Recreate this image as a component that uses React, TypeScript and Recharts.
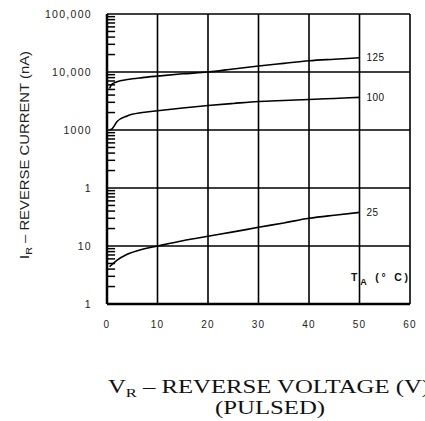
import { LineChart, Line, XAxis, YAxis, CartesianGrid, ReferenceLine, ReferenceDot } from 'recharts';

// reverse voltage (V)
const voltage = [0.5, 1, 2, 4, 7, 10, 15, 20, 25, 30, 35, 40, 45, 50];
// reverse current (nA) per ambient temperature
const temp125 = [5200, 6200, 6800, 7400, 8000, 8500, 9300, 10000, 11300, 12700, 14100, 15600, 16600, 17600];
const temp100 = [1000, 1050, 1400, 1750, 2000, 2150, 2400, 2640, 2870, 3100, 3230, 3350, 3500, 3650];
const temp25 = [4.4, 4.8, 5.7, 7.2, 8.8, 10, 12.3, 14.7, 17.5, 21, 25, 30, 34, 38];

const xTicks = [0, 10, 20, 30, 40, 50, 60];
const yTicks = [1, 10, 100, 1000, 10000, 100000];
// labels as printed on the original sheet
const yTickLabels = ['1', '10', '1', '1000', '10,000', '100,000'];
const minorTicks = [1, 10, 100, 1000, 10000].flatMap((d) => [2, 3, 4, 5, 6, 7, 8, 9].map((m) => d * m));

const data = voltage.map((v, i) => ({ v, t125: temp125[i], t100: temp100[i], t25: temp25[i] }));

const curveLabel = (text: string) => ({
  value: text,
  position: 'right' as const,
  offset: 7,
  fontSize: 10,
  fontFamily: 'Liberation Sans, Arial, sans-serif',
  fill: '#111',
  letterSpacing: 0.5,
});

export default function App() {
  return (
    <div style={{ position: 'absolute', left: 0, top: 0, width: 425, height: 421, background: '#fff' }}>
      <LineChart width={425} height={421} data={data} margin={{ top: 14, right: 15, bottom: 97, left: 0 }}>
        <CartesianGrid stroke="#000" strokeWidth={1.6} />
        <XAxis
          dataKey="v"
          type="number"
          domain={[0, 60]}
          ticks={xTicks}
          height={20}
          tickLine={false}
          tickMargin={11}
          axisLine={{ stroke: '#000', strokeWidth: 2.5 }}
          tick={{ fontSize: 10, fill: '#222', fontFamily: 'Liberation Sans, Arial, sans-serif', letterSpacing: 1.2 }}
        />
        <YAxis
          scale="log"
          domain={[1, 100000]}
          allowDataOverflow
          ticks={yTicks}
          width={107}
          tickLine={false}
          tickMargin={9}
          axisLine={{ stroke: '#000', strokeWidth: 2.5 }}
          tickFormatter={(v: number) => yTickLabels[yTicks.indexOf(v)] ?? ''}
          tick={{ fontSize: 10.5, fill: '#222', fontFamily: 'Liberation Sans, Arial, sans-serif', letterSpacing: 1.3 }}
        />
        {minorTicks.map((m) => (
          <ReferenceLine key={m} segment={[{ x: 0, y: m }, { x: 1.6, y: m }]} stroke="#000" strokeWidth={1.5} />
        ))}
        <Line type="monotone" dataKey="t125" stroke="#000" strokeWidth={1.6} dot={false} isAnimationActive={false} />
        <Line type="monotone" dataKey="t100" stroke="#000" strokeWidth={1.6} dot={false} isAnimationActive={false} />
        <Line type="monotone" dataKey="t25" stroke="#000" strokeWidth={1.6} dot={false} isAnimationActive={false} />
        <ReferenceDot x={50} y={temp125[temp125.length - 1]} r={0} label={curveLabel('125')} />
        <ReferenceDot x={50} y={temp100[temp100.length - 1]} r={0} label={curveLabel('100')} />
        <ReferenceDot x={50} y={temp25[temp25.length - 1]} r={0} label={curveLabel('25')} />
      </LineChart>
      <svg width={425} height={421} style={{ position: 'absolute', left: 0, top: 0, pointerEvents: 'none' }}>
        <text
          transform="rotate(-90 29 155)"
          x={29}
          y={155}
          textAnchor="middle"
          fontSize={12.5}
          fontFamily="Liberation Sans, Arial, sans-serif"
          fill="#222"
          textLength={208}
          lengthAdjust="spacingAndGlyphs"
        >
          I<tspan fontSize={9} dy={3}>R</tspan>
          <tspan dy={-3}> – REVERSE CURRENT (nA)</tspan>
        </text>
        <text
          x={351}
          y={281}
          fontSize={10.5}
          fontWeight="bold"
          fontFamily="Liberation Sans, Arial, sans-serif"
          fill="#111"
          textLength={57}
          lengthAdjust="spacing"
        >
          T<tspan fontSize={9} dy={4}>A</tspan>
          <tspan dy={-4}> (° C)</tspan>
        </text>
        <text
          x={108}
          y={393}
          fontSize={18}
          fontFamily="Liberation Serif, Times New Roman, serif"
          fill="#111"
          textLength={322}
          lengthAdjust="spacingAndGlyphs"
        >
          V<tspan fontSize={12} dy={4}>R</tspan>
          <tspan dy={-4}> – REVERSE VOLTAGE (V)</tspan>
        </text>
        <text
          x={270}
          y={414}
          textAnchor="middle"
          fontSize={18}
          fontFamily="Liberation Serif, Times New Roman, serif"
          fill="#111"
          textLength={110}
          lengthAdjust="spacingAndGlyphs"
        >
          (PULSED)
        </text>
      </svg>
    </div>
  );
}
